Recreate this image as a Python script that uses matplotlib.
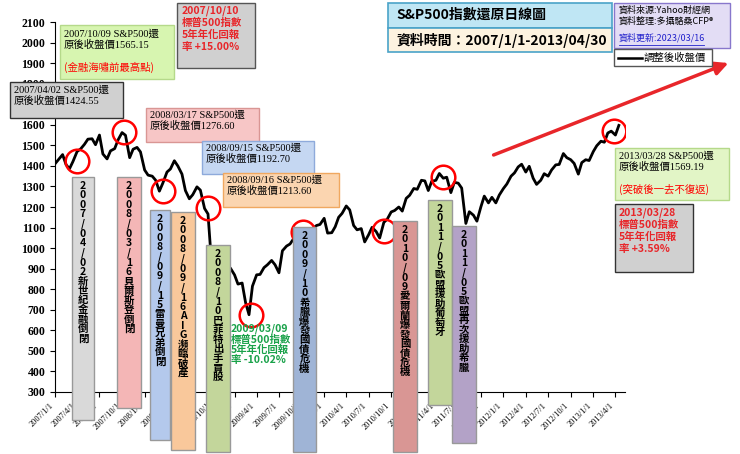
import matplotlib
matplotlib.use("Agg")
import matplotlib.pyplot as plt
import matplotlib.dates as mdates
from matplotlib.patches import Rectangle, FancyArrowPatch
import datetime as dt

plt.rcParams['font.family'] = ['Noto Sans CJK TC', 'DejaVu Sans']

years = [2007, 2008, 2009, 2010, 2011, 2012, 2013]
closes = {
    2007: [1410,1430,1455,1406,1386,1421,1470,1482,1505,1530,1532,1503,1550,1458,1434,1473,1484,1527,1562,1549,1440,1481,1490,1468],
    2008: [1380,1355,1350,1330,1277,1316,1370,1385,1425,1400,1360,1280,1240,1260,1298,1282,1193,1166,900,940,850,780,880,903],
    2009: [870,825,830,735,676,815,870,872,905,919,940,919,880,987,1010,1020,1050,1057,1070,1036,1093,1095,1110,1115],
    2010: [1145,1073,1075,1104,1150,1169,1205,1186,1110,1089,1095,1030,1065,1101,1080,1049,1125,1141,1176,1183,1200,1180,1242,1257],
    2011: [1290,1286,1330,1327,1280,1325,1330,1363,1340,1345,1270,1320,1316,1292,1120,1177,1160,1131,1200,1253,1220,1247,1220,1258],
    2012: [1290,1312,1350,1366,1395,1408,1370,1398,1340,1310,1330,1362,1350,1380,1405,1407,1460,1440,1430,1412,1360,1416,1430,1426],
    2013: [1470,1498,1520,1515,1560,1569,1550,1597],
}
dates, vals = [], []
for y in years:
    for i, v in enumerate(closes[y]):
        dates.append(dt.date(y, i // 2 + 1, 1 if i % 2 == 0 else 15))
        vals.append(v)

tick_dates = [dt.date(y, m, 1) for y in range(2007, 2014) for m in (1, 4, 7, 10)][:26]
tick_labels = [f"{d.year}/{d.month}/1" for d in tick_dates]

circle_dates = [dt.date(2007,4,2), dt.date(2007,10,9), dt.date(2008,3,17), dt.date(2008,9,15),
                dt.date(2009,3,9), dt.date(2009,10,5), dt.date(2010,9,1), dt.date(2011,5,1), dt.date(2013,3,28)]
circle_vals = [1424, 1565, 1277, 1193, 676, 1080, 1085, 1345, 1569]

W, H = 740, 454
fig = plt.figure(figsize=(W/100, H/100), dpi=100)
ax = fig.add_axes([55/W, 1-392/H, 570/W, 370/H])
ax.plot(dates, vals, color='black', lw=2)
ax.plot(circle_dates, circle_vals, 'o', ms=17, mfc='none', mec='red', mew=1.8)
ax.set_ylim(300, 2100)
ax.set_yticks(range(300, 2101, 100))
ax.set_xlim(dt.date(2007,1,1), dt.date(2013,5,10))
ax.set_xticks(tick_dates)
ax.set_xticklabels(tick_labels, rotation=45, ha='right', fontsize=6, family='Liberation Serif')
for lab in ax.get_yticklabels():
    lab.set_fontsize(8.5); lab.set_fontweight('bold'); lab.set_family('Liberation Serif')
for s in ('top', 'right'):
    ax.spines[s].set_visible(False)

def px(x, y):
    return x / W, 1 - y / H

def box(x0, y0, x1, y1, fc, ec='#999999', lw=1):
    fig.add_artist(Rectangle(px(x0, y1), (x1-x0)/W, (y1-y0)/H, transform=fig.transFigure,
                             fc=fc, ec=ec, lw=lw, zorder=5))

def txt(x, y, s, color='black', size=8, ha='left', va='top', **kw):
    fig.text(*px(x, y), s, color=color, fontsize=size, ha=ha, va=va, zorder=6, **kw)

def vbox(x0, y0, x1, y1, fc, s):
    box(x0, y0, x1, y1, fc)
    txt((x0+x1)/2, y0+4, "\n".join(s), size=7.5, ha='center', linespacing=0.93, fontweight='bold')

vbox(72, 177, 94, 420, '#d9d9d9', "2007/04/02新世紀金融倒閉")
vbox(117, 177, 141, 408, '#f4b6b6', "2008/03/16貝爾斯登倒閉")
vbox(150, 210, 170, 440, '#b4c9ec', "2008/09/15雷曼兄弟倒閉")
vbox(171, 212, 195, 450, '#f9c89b', "2008/09/16AIG瀕臨破產")
vbox(206, 245, 230, 452, '#c3d69b', "2008/10巴菲特出手買股")
vbox(293, 227, 316, 452, '#9fb4d6', "2009/10希臘爆發國債危機")
vbox(393, 221, 417, 452, '#d99694', "2010/09愛爾蘭爆發國債危機")
vbox(428, 200, 452, 405, '#c3d69b', "2011/05歐盟援助葡萄牙")
vbox(452, 226, 476, 443, '#b3a2c7', "2011/05歐盟再次援助希臘")

box(60, 25, 174, 79, '#d7f5b0', ec='#b5d98a')
txt(64, 29, "2007/10/09 S&P500還\n原後收盤價1565.15", size=7.5, family=['Liberation Serif', 'Noto Sans CJK TC'])
txt(64, 62, "(金融海嘯前最高點)", color='red', size=7.5)
box(177, 3, 255, 68, '#d0d0d0', ec='#555555')
txt(182, 6, "2007/10/10\n標普500指數\n5年年化回報\n率 +15.00%", color='#e8262a', size=7.5, fontweight='bold')
box(10, 82, 123, 118, '#d0d0d0', ec='#333333')
txt(14, 85, "2007/04/02 S&P500還\n原後收盤價1424.55", size=7.5, family=['Liberation Serif', 'Noto Sans CJK TC'])
box(146, 108, 259, 142, '#f7c6c6', ec='#d99694')
txt(150, 110, "2008/03/17 S&P500還\n原後收盤價1276.60", size=7.5, family=['Liberation Serif', 'Noto Sans CJK TC'])
box(202, 141, 314, 174, '#c5d7f2', ec='#8eaadb')
txt(206, 143, "2008/09/15 S&P500還\n原後收盤價1192.70", size=7.5, family=['Liberation Serif', 'Noto Sans CJK TC'])
box(223, 173, 339, 207, '#fbd5b0', ec='#f0a860')
txt(227, 175, "2008/09/16 S&P500還\n原後收盤價1213.60", size=7.5, family=['Liberation Serif', 'Noto Sans CJK TC'])
txt(231, 324, "2009/03/09\n標普500指數\n5年年化回報\n率 -10.02%", color='#1aa24a', size=7.5, fontweight='bold', linespacing=1.0)

box(388, 3, 612, 28, '#bfe6f4', ec='#4aa3c8', lw=1.2)
txt(396, 15, "S&P500指數還原日線圖", size=10, va='center', fontweight='bold')
box(388, 28, 612, 52, '#fdf3e0', ec='#4aa3c8', lw=1.2)
txt(396, 40, "資料時間：2007/1/1-2013/04/30", size=10, va='center', fontweight='bold')
box(614, 3, 730, 48, '#e3ddf5', ec='#8877cc')
txt(619, 6, "資料來源:Yahoo財經網\n資料整理:多攝駱桑CFP®", size=6.5, linespacing=1.15)
txt(619, 33, "資料更新:2023/03/16", size=6.5, color='#2222cc')
fig.add_artist(plt.Line2D([619/W, 704/W], [1-45/H, 1-45/H], color='#2222cc', lw=0.6, zorder=7))
box(614, 49, 712, 66, 'white', ec='#555555')
fig.add_artist(plt.Line2D([618/W, 642/W], [1-57.5/H, 1-57.5/H], color='black', lw=1.8, zorder=7))
txt(644, 57.5, "調整後收盤價", size=7.5, va='center')

box(615, 148, 729, 200, '#e2f5c6', ec='#b5d98a')
txt(619, 151, "2013/03/28 S&P500還\n原後收盤價1569.19", size=7.5, family=['Liberation Serif', 'Noto Sans CJK TC'])
txt(619, 184, "(突破後一去不復返)", color='red', size=7.5)
box(615, 204, 693, 272, '#d0d0d0', ec='#333333')
txt(619, 208, "2013/03/28\n標普500指數\n5年年化回報\n率 +3.59%", color='#e8262a', size=7.5, fontweight='bold')

fig.add_artist(FancyArrowPatch(px(491, 156), px(731, 62), transform=fig.transFigure,
                               arrowstyle='-|>,head_length=8,head_width=4', color='#e8262a', lw=2.5, zorder=4))

fig.savefig("out.png", dpi=100)
